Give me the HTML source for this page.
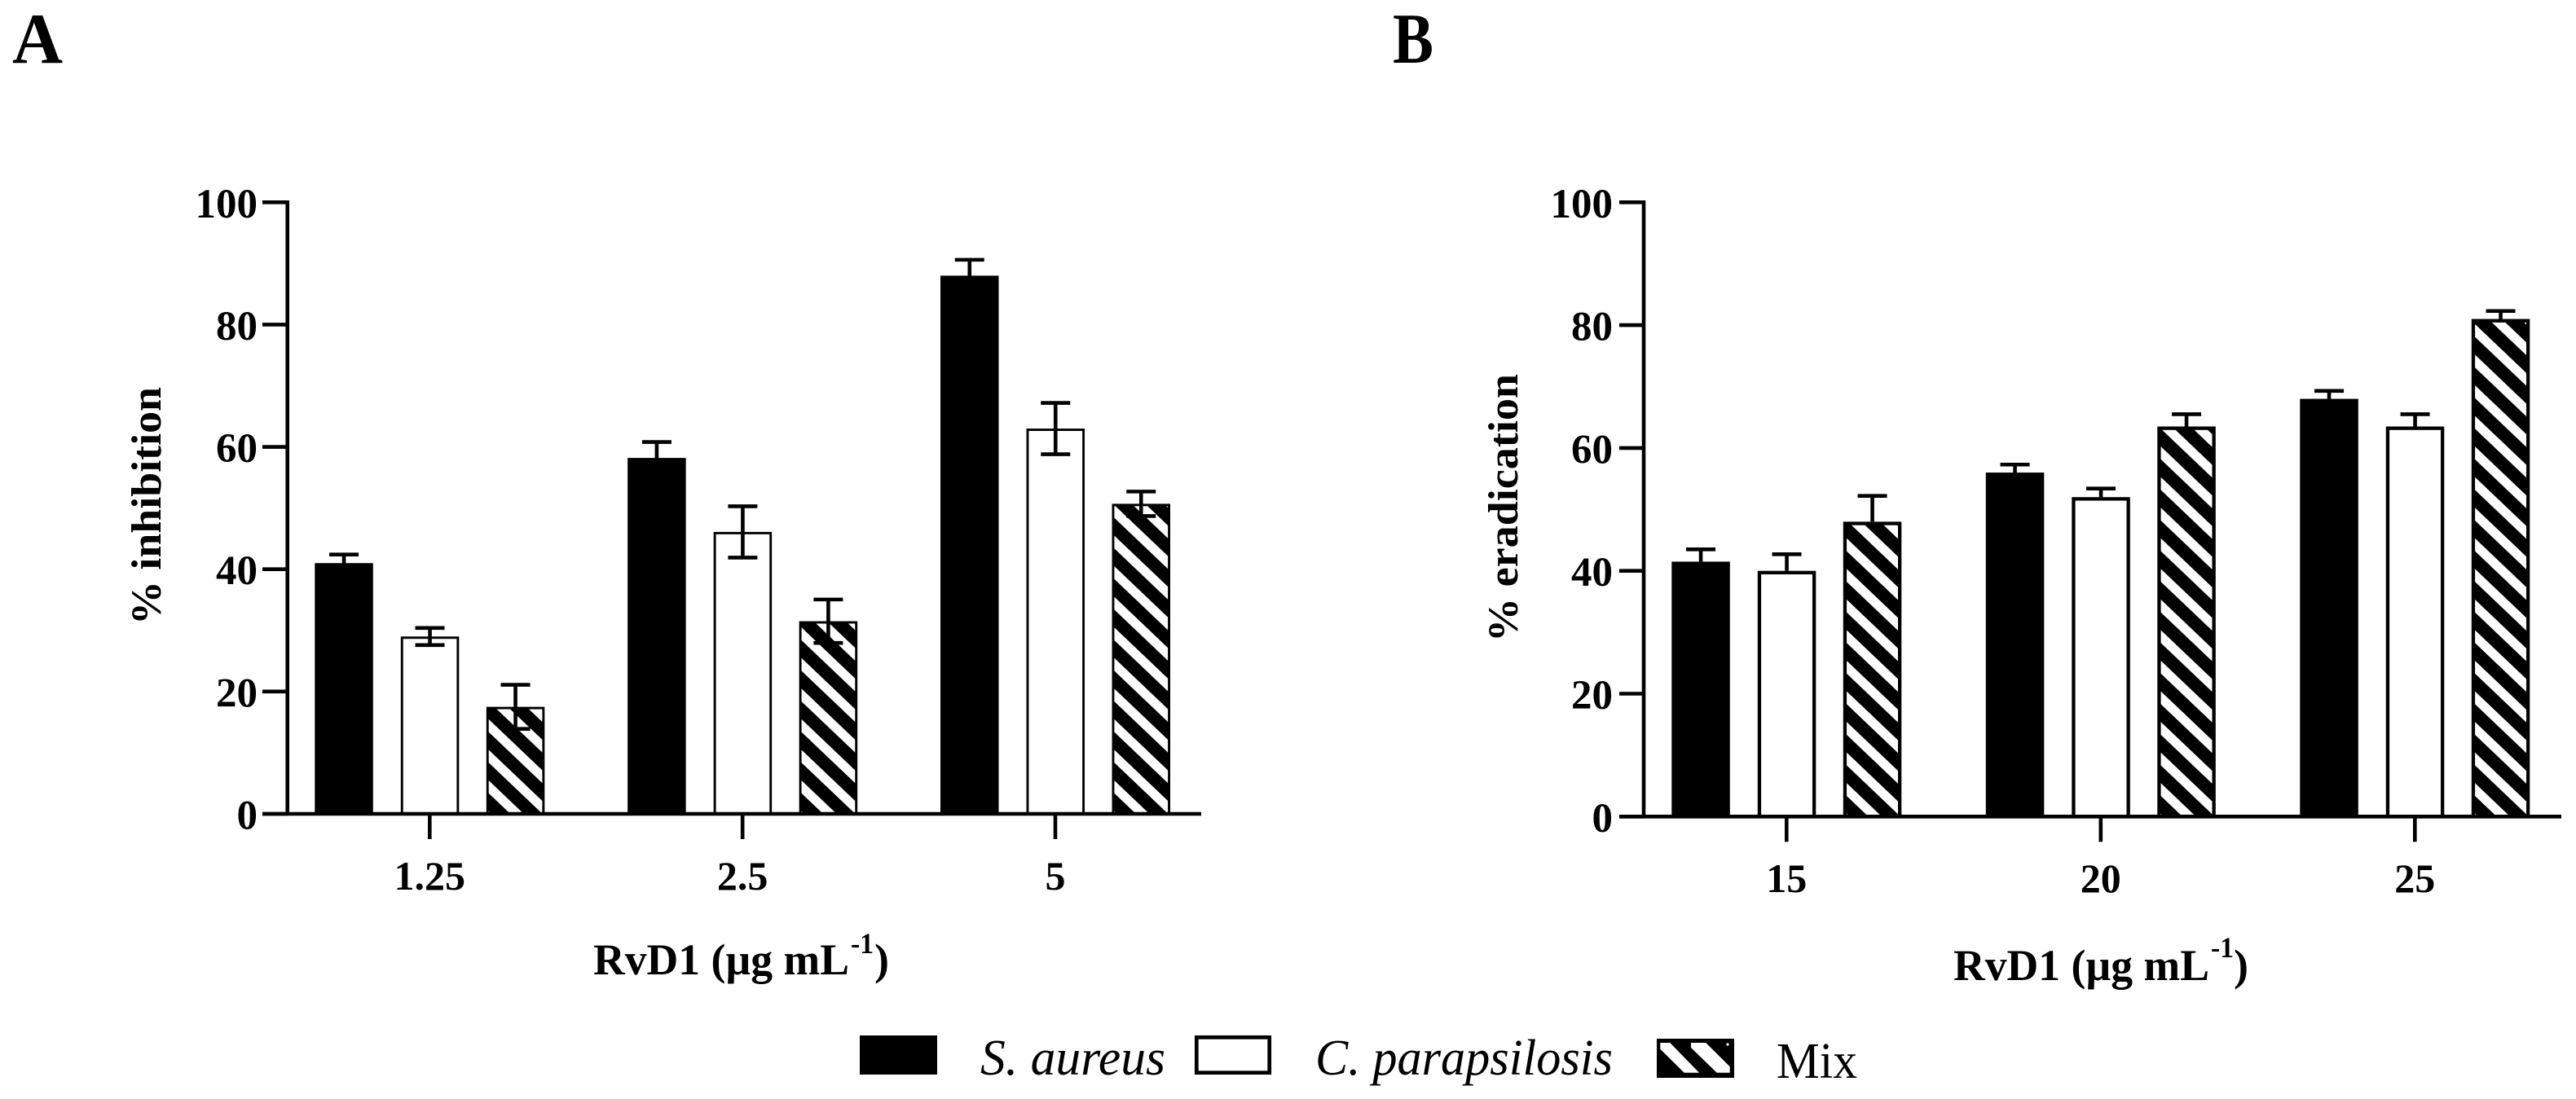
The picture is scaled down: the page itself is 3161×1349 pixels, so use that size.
<!DOCTYPE html>
<html>
<head>
<meta charset="utf-8">
<title>RvD1 inhibition and eradication</title>
<style>
html,body{margin:0;padding:0;background:#fff;width:3161px;height:1349px;overflow:hidden}
svg{display:block}
text{font-family:"Liberation Serif",serif;fill:#000}
.b{font-weight:bold}
.i{font-style:italic}
</style>
</head>
<body>
<svg id="chart" xmlns="http://www.w3.org/2000/svg" width="3161" height="1349" viewBox="0 0 3161 1349">
<rect width="3161" height="1349" fill="#fff"/>
<defs id="defs"></defs>
<text class="b" x="15" y="77" font-size="88" textLength="62" lengthAdjust="spacingAndGlyphs">A</text>
<text class="b" x="1709" y="77" font-size="88" textLength="50" lengthAdjust="spacingAndGlyphs">B</text>

<g>
<text class="b" x="728" y="1196" font-size="54" textLength="314" lengthAdjust="spacingAndGlyphs">RvD1 (µg mL</text>
<text class="b" x="1044" y="1170" font-size="36" textLength="28" lengthAdjust="spacingAndGlyphs">-1</text>
<text class="b" x="1073" y="1196" font-size="54">)</text>
</g>
<g>
<text class="b" x="2397" y="1203" font-size="54" textLength="314" lengthAdjust="spacingAndGlyphs">RvD1 (µg mL</text>
<text class="b" x="2713" y="1175" font-size="36" textLength="28" lengthAdjust="spacingAndGlyphs">-1</text>
<text class="b" x="2741" y="1203" font-size="54">)</text>
</g>
<text class="b" transform="translate(197,767) rotate(-90)" font-size="52" textLength="292" lengthAdjust="spacingAndGlyphs">% inhibition</text>
<text class="b" transform="translate(1862,788) rotate(-90)" font-size="52" textLength="329" lengthAdjust="spacingAndGlyphs">% eradication</text>

<g id="panelA"></g>
<g id="panelB"></g>

<g>
<rect x="1055" y="1271" width="95" height="48" fill="#000"/>
<text class="i" x="1203" y="1319" font-size="62" textLength="227" lengthAdjust="spacingAndGlyphs">S. aureus</text>
<rect x="1468.3" y="1273.3" width="89.4" height="43.4" fill="#fff" stroke="#000" stroke-width="4.7"/>
<text class="i" x="1614" y="1319" font-size="62" textLength="365" lengthAdjust="spacingAndGlyphs">C. parapsilosis</text>
<g>
<rect x="2033" y="1275" width="95" height="48" fill="#000"/>
<polygon fill="#fff" points="2037.3,1280 2049.3,1280 2085,1316.7 2066.7,1316.7 2037.3,1287.7"/>
<polygon fill="#fff" points="2075,1280 2093.3,1280 2122.7,1309.3 2122.7,1316.7 2106.7,1316.7 2075,1286"/>
<circle cx="2120" cy="1282" r="1.6" fill="#fff"/>
</g>
<text x="2180" y="1323" font-size="62" textLength="99" lengthAdjust="spacingAndGlyphs">Mix</text>
</g>
</svg>
<script>
// Shared value-axis ticks
const yTickValues = [0, 20, 40, 60, 80, 100];

// Panel A: % inhibition
const categoriesA = ["1.25", "2.5", "5"];
const sAureusA = [41, 58.2, 88];
const cParapsilosisA = [29, 46.1, 63];
const mixA = [17.5, 31.5, 50.7];
const sAureusErrA = [1.4, 2.6, 2.6];
const cParapsilosisErrA = [1.4, 4.2, 4.2];
const mixErrA = [3.6, 3.55, 2.0];

// Panel B: % eradication
const categoriesB = ["15", "20", "25"];
const sAureusB = [41.5, 56, 68];
const cParapsilosisB = [40, 52, 63.5];
const mixB = [48, 63.5, 81];
const sAureusErrB = [2, 1.3, 1.3];
const cParapsilosisErrB = [2.7, 1.4, 2.0];
const mixErrB = [4.2, 2.0, 1.3];

const seriesKeys = ["s-aureus", "c-parapsilosis", "mix"];
const NS = "http://www.w3.org/2000/svg";
const defs = document.getElementById("defs");

function make(parent, tag, attrs, txt) {
  const e = document.createElementNS(NS, tag);
  for (const k in attrs) e.setAttribute(k, attrs[k]);
  if (txt !== undefined) e.textContent = txt;
  parent.appendChild(e);
  return e;
}

function drawPanel(cfg) {
  const g = cfg.group;
  const yScale = function (v) { return cfg.y0 - v * cfg.unit; };
  const xScale = function (i) { return cfg.firstTick + i * cfg.pitch; };
  const seriesOffset = [-141, -35.5, 69.5];
  const barW = 71.5;
  const lw = 4.6;

  cfg.categories.forEach(function (cat, i) {
    cfg.series.forEach(function (vals, s) {
      const v = vals[i];
      const e = cfg.errors[s][i];
      const left = xScale(i) + seriesOffset[s];
      const top = yScale(v);
      const bar = make(g, "g", {});
      
      
      make(bar, "rect", {x: left, y: top, width: barW, height: cfg.y0 - top, fill: "#000"});
      if (s === 1) {
        make(bar, "rect", {x: left + cfg.border, y: top + cfg.border, width: barW - 2 * cfg.border, height: Math.max(0, cfg.y0 - top - cfg.border), fill: "#fff"});
      }
      if (s === 2) {
        const id = "hatch-" + cfg.key + "-" + i;
        const p = make(defs, "pattern", {id: id, patternUnits: "userSpaceOnUse", width: 27.2, height: 27.2,
          patternTransform: "translate(" + (left + cfg.border) + "," + (cfg.y0 - 41) + ") rotate(43.6)"});
        make(p, "rect", {x: 0, y: 0, width: 27.2, height: 27.2, fill: "#000"});
        make(p, "rect", {x: 0, y: 0, width: 27.2, height: 11.4, fill: "#fff"});
        make(bar, "rect", {x: left + cfg.border, y: top + cfg.border, width: barW - 2 * cfg.border, height: Math.max(0, cfg.y0 - top - cfg.border), fill: "url(#" + id + ")"});
      }
      const cx = left + barW / 2;
      const upper = yScale(v + e);
      const lower = cfg.twoSided ? yScale(v - e) : top;
      const err = make(g, "g", {stroke: "#000", "stroke-width": lw});
      
      
      make(err, "line", {x1: cx, x2: cx, y1: upper, y2: lower});
      make(err, "line", {x1: cx - 18, x2: cx + 18, y1: upper, y2: upper});
      if (cfg.twoSided) make(err, "line", {x1: cx - 18, x2: cx + 18, y1: lower, y2: lower});
    });
    const tick = make(g, "line", {x1: xScale(i), x2: xScale(i), y1: cfg.y0, y2: cfg.y0 + 31, stroke: "#000", "stroke-width": lw});
    
    
    const label = make(g, "text", {x: xScale(i), y: cfg.xLabelY, "text-anchor": "middle", "font-size": 50, "class": "b"}, cat);
    
    
  });

  const xAxis = make(g, "line", {x1: cfg.tickLeft, x2: cfg.xEnd, y1: cfg.y0, y2: cfg.y0, stroke: "#000", "stroke-width": lw});
  
  
  const yAxis = make(g, "line", {x1: cfg.axisX, x2: cfg.axisX, y1: yScale(100) - lw / 2, y2: cfg.y0, stroke: "#000", "stroke-width": lw});
  
  

  yTickValues.forEach(function (t) {
    const tick = make(g, "line", {x1: cfg.tickLeft, x2: cfg.axisX, y1: yScale(t), y2: yScale(t), stroke: "#000", "stroke-width": lw});
    
    
    const label = make(g, "text", {x: cfg.yLabelX, y: yScale(t) + 18.5, "text-anchor": "end", "font-size": 51, "class": "b"}, String(t));
    
    
  });
}

drawPanel({
  key: "a", group: document.getElementById("panelA"),
  categories: categoriesA,
  series: [sAureusA, cParapsilosisA, mixA],
  errors: [sAureusErrA, cParapsilosisErrA, mixErrA],
  twoSided: true,
  y0: 999, unit: 7.507, firstTick: 527.3, pitch: 383.85,
  axisX: 352.7, tickLeft: 322, xEnd: 1474, yLabelX: 316, xLabelY: 1092, border: 2.9
});
drawPanel({
  key: "b", group: document.getElementById("panelB"),
  categories: categoriesB,
  series: [sAureusB, cParapsilosisB, mixB],
  errors: [sAureusErrB, cParapsilosisErrB, mixErrB],
  twoSided: false,
  y0: 1002.3, unit: 7.54, firstTick: 2192.3, pitch: 385.5,
  axisX: 2017, tickLeft: 1987, xEnd: 3143, yLabelX: 1979, xLabelY: 1095, border: 4.3
});
</script>
</body>
</html>
